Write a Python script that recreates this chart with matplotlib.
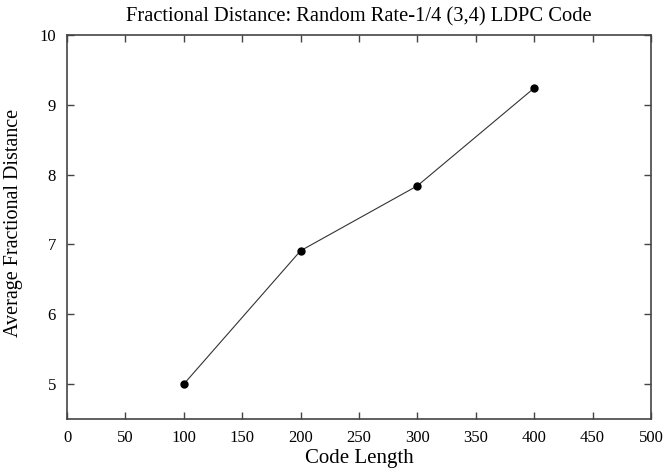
import matplotlib
matplotlib.use("Agg")
import matplotlib.pyplot as plt

code_length = [100, 200, 300, 400]
avg_frac_dist = [5.0, 6.91, 7.84, 9.24]
x_ticks = list(range(0, 501, 50))
y_ticks = [5, 6, 7, 8, 9, 10]

plt.rcParams['font.family'] = ['Liberation Serif', 'DejaVu Serif']

fig = plt.figure(figsize=(6.65, 4.7), dpi=100)
ax = fig.add_axes([0.1008, 0.1085, 0.878, 0.817])

ax.plot(code_length, avg_frac_dist, color='#333333', linewidth=0.8,
        marker='o', markersize=5, markerfacecolor='black', markeredgecolor='black')

ax.set_xlim(0, 500)
ax.set_ylim(4.5, 10)
ax.set_xticks(x_ticks)
ax.set_yticks(y_ticks)
ax.tick_params(direction='in', length=5, width=1, top=True, right=True,
               labelsize=12, color='#444444', pad=8)
for s in ax.spines.values():
    s.set_color('#444444')
    s.set_linewidth(1.2)

ax.set_title("Fractional Distance: Random Rate-1/4 (3,4) LDPC Code", fontsize=14.8, pad=10)
ax.set_xlabel("Code Length", fontsize=15, labelpad=2)
ax.set_ylabel("Average Fractional Distance", fontsize=14.5)
ax.yaxis.set_label_coords(-0.075, 0.51)

fig.savefig("out.png", dpi=100)
